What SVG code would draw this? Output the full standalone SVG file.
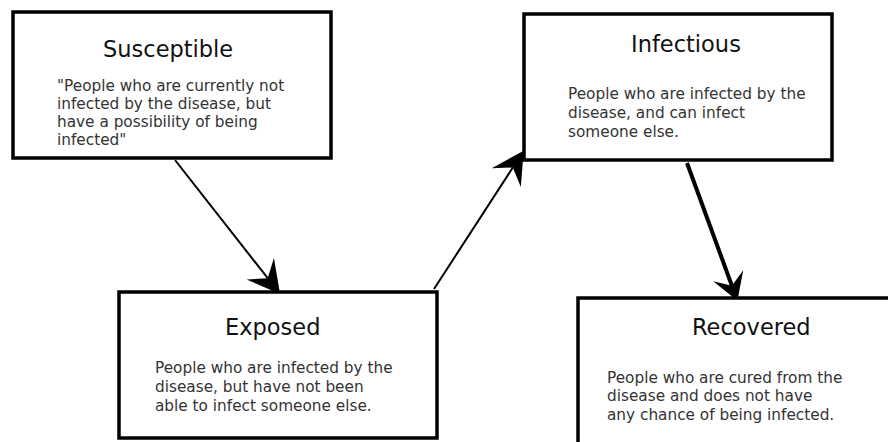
<svg xmlns="http://www.w3.org/2000/svg" width="888" height="442" viewBox="0 0 888 442">
<style>
.box{fill:#fff;stroke:#000;stroke-width:3.5}
.title{font-family:"DejaVu Sans",Verdana,sans-serif;font-size:22.5px;fill:#111}
.body{font-family:"DejaVu Sans",Verdana,sans-serif;font-size:15.3px;fill:#333}
.conn{stroke:#000;fill:none}
</style>
<defs>
<marker id="ah" markerUnits="userSpaceOnUse" markerWidth="40" markerHeight="40" viewBox="-12 -15 30 30" refX="0" refY="0" orient="auto">
<path d="M15,0 L-9,-13 L0,0 L-9,13 Z" fill="#000"/>
</marker>
<marker id="ah2" markerUnits="userSpaceOnUse" markerWidth="40" markerHeight="40" viewBox="-12 -15 30 30" refX="0" refY="0" orient="auto">
<path d="M12,0 L-8,-12 L0,0 L-8,12 Z" fill="#000"/>
</marker>
</defs>
<rect width="888" height="442" fill="#fff"/>
<g id="connectors">
<line class="conn" stroke-width="2" x1="175" y1="160" x2="267.7" y2="278.2" marker-end="url(#ah)"/>
<line class="conn" stroke-width="2" x1="434" y1="289" x2="512.8" y2="167.5" marker-end="url(#ah)"/>
<line class="conn" stroke-width="4" x1="687" y1="163" x2="731.9" y2="285.7" marker-end="url(#ah2)"/>
</g>
<g id="susceptible">
<rect class="box" x="13" y="12" width="318" height="146"/>
<text class="title" x="103" y="57">Susceptible</text>
<text class="body" x="57" y="91">"People who are currently not</text>
<text class="body" x="57" y="109">infected by the disease, but</text>
<text class="body" x="57" y="127">have a possibility of being</text>
<text class="body" x="57" y="145">infected"</text>
</g>
<g id="infectious">
<rect class="box" x="524" y="14" width="308" height="146"/>
<text class="title" x="631" y="52">Infectious</text>
<text class="body" x="568" y="99">People who are infected by the</text>
<text class="body" x="568" y="118">disease, and can infect</text>
<text class="body" x="568" y="137">someone else.</text>
</g>
<g id="exposed">
<rect class="box" x="119" y="292" width="318" height="146"/>
<text class="title" x="225" y="335">Exposed</text>
<text class="body" x="155" y="373">People who are infected by the</text>
<text class="body" x="155" y="392">disease, but have not been</text>
<text class="body" x="155" y="411">able to infect someone else.</text>
</g>
<g id="recovered">
<rect class="box" x="578" y="298" width="340" height="200"/>
<text class="title" x="692" y="335">Recovered</text>
<text class="body" x="607" y="383">People who are cured from the</text>
<text class="body" x="607" y="401">disease and does not have</text>
<text class="body" x="607" y="420">any chance of being infected.</text>
</g>
</svg>
